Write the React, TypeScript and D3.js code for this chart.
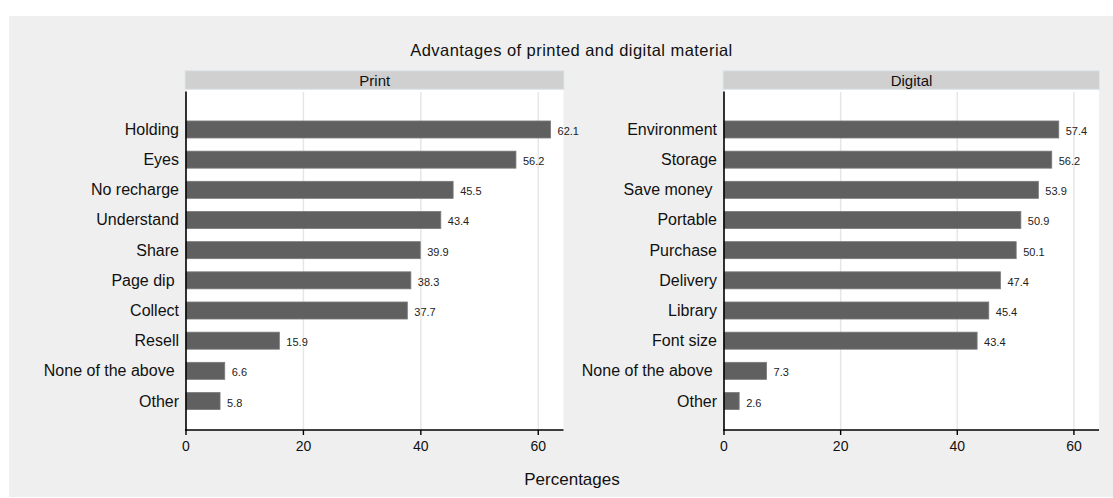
import React from "react";
import * as d3 from "d3";

const printCategories = ["Holding", "Eyes", "No recharge", "Understand", "Share", "Page dip ", "Collect", "Resell", "None of the above ", "Other"];
const printValues = [62.1, 56.2, 45.5, 43.4, 39.9, 38.3, 37.7, 15.9, 6.6, 5.8];
const digitalCategories = ["Environment", "Storage", "Save money ", "Portable", "Purchase", "Delivery", "Library", "Font size", "None of the above ", "Other"];
const digitalValues = [57.4, 56.2, 53.9, 50.9, 50.1, 47.4, 45.4, 43.4, 7.3, 2.6];
const xTicks = [0, 20, 40, 60];
const xMax = 64.3;
const titleText = "Advantages of printed and digital material";
const axisTitle = "Percentages";

const FONT = "'Liberation Sans', Arial, sans-serif";

function Panel({ name, cats, vals, x0, x1 }: { name: string; cats: string[]; vals: number[]; x0: number; x1: number }) {
  const top = 90;
  const bottom = 430;
  const x = d3.scaleLinear().domain([0, xMax]).range([x0, x1]);
  const y = d3.scaleBand<string>().domain(cats).range([114.4, 416.1]).paddingInner(0.436).paddingOuter(0.218);
  const bw = y.bandwidth();
  return (
    <g>
      <rect x={x0 - 1} y={70.7} width={x1 - x0 + 1.5} height={18.6} fill="#d0d0d0" stroke="#dde7ec" strokeWidth={1} />
      <text x={(x0 + x1) / 2} y={80} textAnchor="middle" dominantBaseline="central" fontSize={15} fontFamily={FONT} fill="#111">{name}</text>
      <rect x={x0} y={top} width={x1 - x0} height={bottom - top} fill="#ffffff" />
      {xTicks.filter((t) => t > 0).map((t) => (
        <line key={t} x1={x(t)} x2={x(t)} y1={top + 2} y2={bottom} stroke="#e6e6e6" strokeWidth={1.5} />
      ))}
      {cats.map((c, i) => (
        <g key={c}>
          <rect x={x(0)} y={y(c)!} width={x(vals[i]) - x(0)} height={bw} fill="#606060" stroke="#7a7a7a" strokeWidth={0.8} />
          <text x={x(vals[i]) + 7} y={y(c)! + bw / 2 + 1.5} dominantBaseline="central" fontSize={11} fontFamily={FONT} fill="#222">{vals[i].toFixed(1)}</text>
          <text x={x(0) - 7} y={y(c)! + bw / 2} textAnchor="end" dominantBaseline="central" fontSize={16} fontFamily={FONT} fill="#111" style={{ whiteSpace: "pre" }}>{c}</text>
        </g>
      ))}
      <line x1={x(0)} x2={x(0)} y1={top + 1.5} y2={bottom + 1} stroke="#000" strokeWidth={1.6} />
      <line x1={x(0) - 0.8} x2={x1} y1={bottom} y2={bottom} stroke="#000" strokeWidth={1.6} />
      {xTicks.map((t) => (
        <g key={t}>
          <line x1={x(t)} x2={x(t)} y1={bottom} y2={bottom + 5} stroke="#000" strokeWidth={1.4} />
          <text x={x(t)} y={446} textAnchor="middle" dominantBaseline="central" fontSize={14} fontFamily={FONT} fill="#111">{t}</text>
        </g>
      ))}
    </g>
  );
}

export default function App() {
  return (
    <svg width={1113} height={498} style={{ position: "absolute", left: 0, top: 0, background: "#ffffff" }}>
      <rect x={9} y={16} width={1104} height={481} fill="#efefef" />
      <text x={571.5} y={50} textAnchor="middle" dominantBaseline="central" fontSize={16.5} letterSpacing={0.45} fontFamily={FONT} fill="#111">{titleText}</text>
      <Panel name="Print" cats={printCategories} vals={printValues} x0={186} x1={563.5} />
      <Panel name="Digital" cats={digitalCategories} vals={digitalValues} x0={724} x1={1099} />
      <text x={572} y={479} textAnchor="middle" dominantBaseline="central" fontSize={17} fontFamily={FONT} fill="#111">{axisTitle}</text>
    </svg>
  );
}
